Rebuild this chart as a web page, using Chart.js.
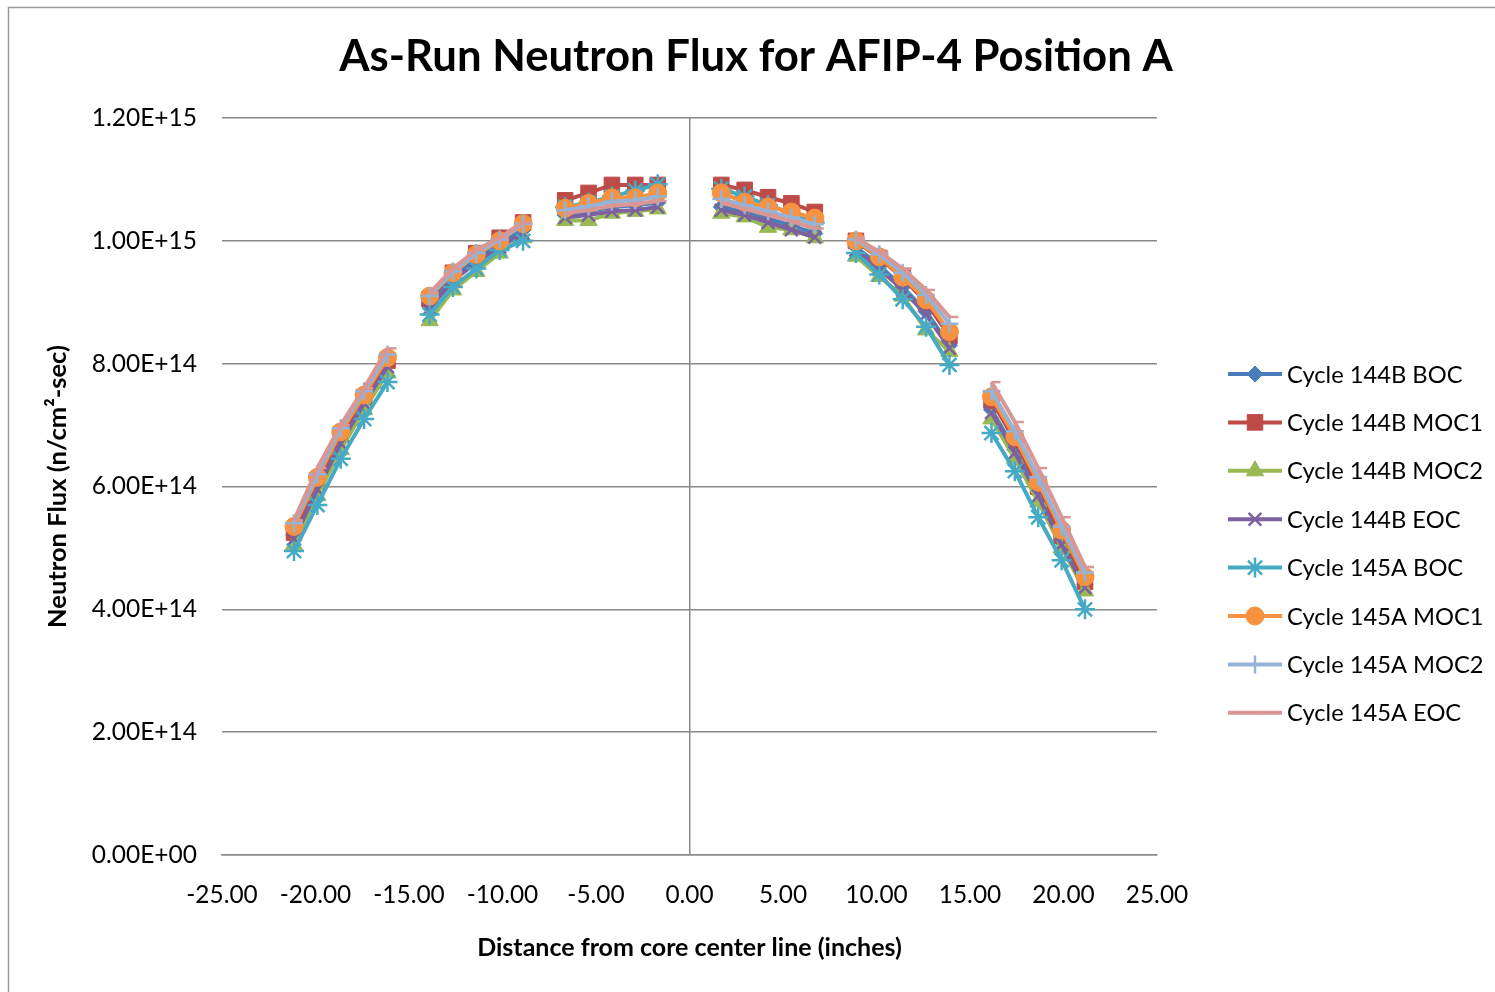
<!DOCTYPE html>
<html>
<head>
<meta charset="utf-8">
<title>As-Run Neutron Flux for AFIP-4 Position A</title>
<script src="https://cdn.jsdelivr.net/npm/chart.js"></script>
<style>
  html, body { margin: 0; padding: 0; background: #fff; }
  #wrap { width: 1495px; height: 992px; }
</style>
</head>
<body>
<div id="wrap"><canvas id="fluxChart" width="1495" height="992"></canvas></div>
<script>
// Distance from core center line (inches); the extra x at each gap breaks the line
const distances = [
  -21.15, -19.9, -18.65, -17.4, -16.15, -15,
  -13.9, -12.65, -11.4, -10.15, -8.9, -7.8,
  -6.65, -5.4, -4.15, -2.9, -1.7, 0,
  1.7, 2.95, 4.2, 5.45, 6.7, 7.8,
  8.9, 10.15, 11.4, 12.65, 13.9, 15,
  16.15, 17.4, 18.65, 19.9, 21.15
];

const seriesNames = [
  'Cycle 144B BOC', 'Cycle 144B MOC1', 'Cycle 144B MOC2', 'Cycle 144B EOC',
  'Cycle 145A BOC', 'Cycle 145A MOC1', 'Cycle 145A MOC2', 'Cycle 145A EOC'
];

// Neutron flux (n/cm2-sec)
const cycle144B_BOC = [
  5.20e14, 6.00e14, 6.75e14, 7.40e14, 8.00e14, null,
  8.95e14, 9.40e14, 9.70e14, 9.95e14, 10.18e14, null,
  10.42e14, 10.48e14, 10.55e14, 10.58e14, 10.62e14, null,
  10.55e14, 10.47e14, 10.36e14, 10.25e14, 10.12e14, null,
  9.90e14, 9.60e14, 9.25e14, 8.85e14, 8.30e14, null,
  7.25e14, 6.60e14, 5.90e14, 5.10e14, 4.40e14
];
const cycle144B_MOC1 = [
  5.25e14, 6.10e14, 6.85e14, 7.45e14, 8.05e14, null,
  9.05e14, 9.48e14, 9.80e14, 10.05e14, 10.30e14, null,
  10.66e14, 10.78e14, 10.91e14, 10.91e14, 10.91e14, null,
  10.91e14, 10.83e14, 10.71e14, 10.61e14, 10.47e14, null,
  10.00e14, 9.72e14, 9.40e14, 9.00e14, 8.45e14, null,
  7.40e14, 6.75e14, 6.00e14, 5.20e14, 4.45e14
];
const cycle144B_MOC2 = [
  5.05e14, 5.85e14, 6.60e14, 7.25e14, 7.85e14, null,
  8.70e14, 9.20e14, 9.50e14, 9.80e14, 10.05e14, null,
  10.33e14, 10.33e14, 10.45e14, 10.48e14, 10.52e14, null,
  10.45e14, 10.39e14, 10.22e14, 10.18e14, 10.05e14, null,
  9.75e14, 9.42e14, 9.10e14, 8.55e14, 8.20e14, null,
  7.10e14, 6.45e14, 5.75e14, 5.00e14, 4.30e14
];
const cycle144B_EOC = [
  5.15e14, 5.95e14, 6.70e14, 7.35e14, 7.95e14, null,
  8.90e14, 9.35e14, 9.65e14, 9.90e14, 10.12e14, null,
  10.38e14, 10.42e14, 10.48e14, 10.50e14, 10.55e14, null,
  10.50e14, 10.42e14, 10.30e14, 10.18e14, 10.06e14, null,
  9.85e14, 9.55e14, 9.20e14, 8.80e14, 8.25e14, null,
  7.20e14, 6.55e14, 5.85e14, 5.05e14, 4.35e14
];
const cycle145A_BOC = [
  4.95e14, 5.70e14, 6.45e14, 7.10e14, 7.70e14, null,
  8.80e14, 9.25e14, 9.55e14, 9.85e14, 10.00e14, null,
  10.55e14, 10.62e14, 10.72e14, 10.82e14, 10.92e14, null,
  10.85e14, 10.72e14, 10.58e14, 10.45e14, 10.30e14, null,
  9.80e14, 9.45e14, 9.05e14, 8.60e14, 7.98e14, null,
  6.87e14, 6.25e14, 5.50e14, 4.80e14, 4.00e14
];
const cycle145A_MOC1 = [
  5.35e14, 6.15e14, 6.89e14, 7.49e14, 8.10e14, null,
  9.10e14, 9.48e14, 9.78e14, 10.00e14, 10.28e14, null,
  10.53e14, 10.61e14, 10.70e14, 10.70e14, 10.78e14, null,
  10.78e14, 10.63e14, 10.55e14, 10.47e14, 10.37e14, null,
  10.00e14, 9.74e14, 9.41e14, 9.04e14, 8.52e14, null,
  7.46e14, 6.81e14, 6.07e14, 5.29e14, 4.53e14
];
const cycle145A_MOC2 = [
  5.40e14, 6.20e14, 6.95e14, 7.55e14, 8.15e14, null,
  9.10e14, 9.50e14, 9.80e14, 10.02e14, 10.28e14, null,
  10.50e14, 10.56e14, 10.64e14, 10.66e14, 10.72e14, null,
  10.68e14, 10.58e14, 10.48e14, 10.38e14, 10.27e14, null,
  10.02e14, 9.78e14, 9.48e14, 9.12e14, 8.65e14, null,
  7.55e14, 6.90e14, 6.15e14, 5.35e14, 4.60e14
];
const cycle145A_EOC = [
  5.45e14, 6.30e14, 7.00e14, 7.60e14, 8.25e14, null,
  9.15e14, 9.55e14, 9.85e14, 10.05e14, 10.30e14, null,
  10.45e14, 10.50e14, 10.57e14, 10.60e14, 10.65e14, null,
  10.62e14, 10.52e14, 10.42e14, 10.32e14, 10.20e14, null,
  10.05e14, 9.82e14, 9.55e14, 9.20e14, 8.76e14, null,
  7.70e14, 7.05e14, 6.30e14, 5.50e14, 4.69e14
];

const fluxSeries = [
  cycle144B_BOC, cycle144B_MOC1, cycle144B_MOC2, cycle144B_EOC,
  cycle145A_BOC, cycle145A_MOC1, cycle145A_MOC2, cycle145A_EOC
];

// Excel 2007 style colours and markers
const lineColors = ['#4A7EBB', '#BE4B48', '#98B954', '#7D60A0', '#46AAC5', '#F69240', '#95B3D7', '#D99694'];
const markerStyles = ['rectRot', 'rect', 'triangle', 'crossRot', 'star', 'circle', 'cross', 'dash'];
const markerSizes = [8, 11, 10, 9, 10, 9, 9, 9];

const FONT = 'Lato, "Open Sans", "DejaVu Sans", sans-serif';

function sciLabel(v) {
  const exp = v === 0 ? 0 : Math.floor(Math.log10(Math.abs(v)) + 1e-9);
  const mant = v / Math.pow(10, exp);
  const e = String(Math.abs(exp)).padStart(2, '0');
  return mant.toFixed(2) + 'E' + (exp < 0 ? '-' : '+') + e;
}

const datasets = fluxSeries.map((vals, i) => ({
  label: seriesNames[i],
  data: distances.map((x, j) => ({ x: x, y: vals[j] })),
  borderColor: lineColors[i],
  backgroundColor: lineColors[i],
  pointBorderColor: lineColors[i],
  pointBackgroundColor: lineColors[i],
  borderWidth: 4,
  pointStyle: markerStyles[i],
  pointRadius: markerSizes[i],
  pointHoverRadius: markerSizes[i],
  pointBorderWidth: ['crossRot', 'star', 'cross', 'dash'].includes(markerStyles[i]) ? 2.5 : 1,
  spanGaps: false,
  tension: 0,
  order: fluxSeries.length - i
}));

// Title, frame and Excel-like legend (line with marker in the middle)
const decorPlugin = {
  id: 'decor',
  beforeDraw(chart) {
    const ctx = chart.ctx;
    ctx.save();
    ctx.fillStyle = '#fff';
    ctx.fillRect(0, 0, chart.width, chart.height);
    ctx.strokeStyle = '#9a9a9a';
    ctx.lineWidth = 1.5;
    ctx.beginPath();
    ctx.moveTo(8.5, chart.height);
    ctx.lineTo(8.5, 7.5);
    ctx.lineTo(chart.width, 7.5);
    ctx.stroke();
    ctx.restore();
  },
  afterDraw(chart) {
    const ctx = chart.ctx;
    ctx.save();
    // title fitted to the reference width
    const title = 'As-Run Neutron Flux for AFIP-4 Position A';
    let size = 40;
    ctx.font = 'bold ' + size + 'px ' + FONT;
    size = size * 833 / ctx.measureText(title).width;
    ctx.font = 'bold ' + size.toFixed(1) + 'px ' + FONT;
    ctx.fillStyle = '#000';
    ctx.textAlign = 'center';
    ctx.textBaseline = 'alphabetic';
    ctx.fillText(title, 756, 71);

    // legend
    const x0 = 1228, x1 = 1282, top = 374, step = 48.4;
    ctx.font = '23.7px ' + FONT;
    ctx.textAlign = 'left';
    ctx.textBaseline = 'middle';
    chart.data.datasets.forEach((ds, i) => {
      const y = top + i * step;
      ctx.strokeStyle = ds.borderColor;
      ctx.lineWidth = 4;
      ctx.beginPath();
      ctx.moveTo(x0, y);
      ctx.lineTo(x1, y);
      ctx.stroke();
      if (Chart.helpers && Chart.helpers.drawPoint) {
        ctx.fillStyle = ds.backgroundColor;
        ctx.strokeStyle = ds.borderColor;
        ctx.lineWidth = ds.pointBorderWidth;
        Chart.helpers.drawPoint(ctx, {
          pointStyle: ds.pointStyle,
          radius: ds.pointRadius,
          rotation: 0,
          borderWidth: ds.pointBorderWidth
        }, (x0 + x1) / 2, y);
      }
      ctx.fillStyle = '#000';
      ctx.fillText(ds.label, 1287, y + 1);
    });
    ctx.restore();
  }
};

const ctx = document.getElementById('fluxChart').getContext('2d');
const fluxChart = new Chart(ctx, {
  type: 'line',
  data: { datasets: datasets },
  plugins: [decorPlugin],
  options: {
    responsive: false,
    animation: false,
    events: [],
    layout: { padding: { left: 0, top: 118, right: 338, bottom: 0 } },
    plugins: {
      legend: { display: false },
      title: { display: false },
      tooltip: { enabled: false }
    },
    scales: {
      x: {
        type: 'linear',
        min: -25,
        max: 25,
        afterFit(scale) { scale.height = 137; },
        ticks: {
          stepSize: 5,
          autoSkip: false,
          maxRotation: 0,
          padding: 26,
          color: '#000',
          font: { family: FONT, size: 24.4 },
          callback: v => v.toFixed(2)
        },
        grid: {
          drawTicks: false,
          color: c => (c.tick && c.tick.value === 0 ? '#8a8a8a' : 'rgba(0,0,0,0)'),
          lineWidth: 1.5
        },
        border: { display: true, color: '#8a8a8a', width: 1.5 },
        title: {
          display: true,
          text: 'Distance from core center line (inches)',
          color: '#000',
          font: { family: FONT, size: 25, weight: 'bold' },
          padding: { top: 0, bottom: 29 }
        }
      },
      y: {
        type: 'linear',
        min: 0,
        max: 1.2e15,
        afterFit(scale) { scale.width = 222; },
        ticks: {
          stepSize: 2e14,
          padding: 25,
          color: '#000',
          font: { family: FONT, size: 24.5 },
          callback: v => sciLabel(v)
        },
        grid: { drawTicks: false, color: '#8a8a8a', lineWidth: 1.5 },
        border: { display: false },
        title: {
          display: true,
          text: 'Neutron Flux (n/cm²-sec)',
          color: '#000',
          font: { family: FONT, size: 25.5, weight: 'bold' },
          padding: { top: 42, bottom: 0 }
        }
      }
    }
  }
});
</script>
</body>
</html>
